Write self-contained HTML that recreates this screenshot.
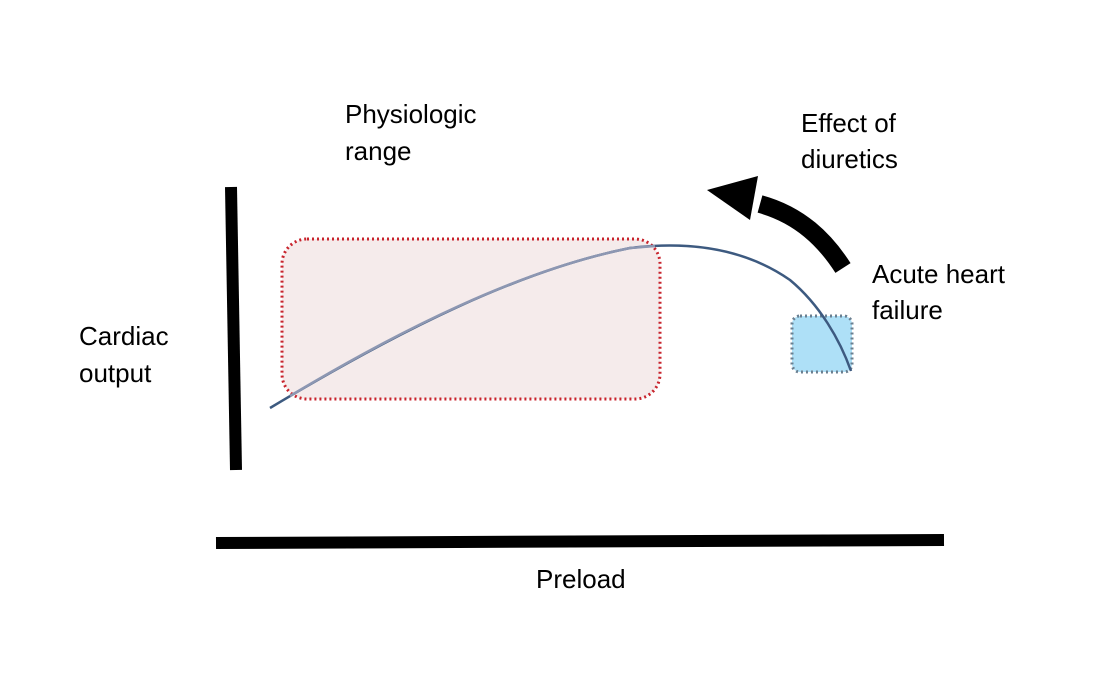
<!DOCTYPE html>
<html><head><style>
body{margin:0;background:#fff;}
svg text{font-family:"Liberation Sans",sans-serif;font-size:26px;fill:#000;}
</style></head><body>
<svg width="1098" height="685" viewBox="0 0 1098 685" xmlns="http://www.w3.org/2000/svg">
<rect x="282" y="239" width="378" height="160" rx="25" fill="#f5ebeb" stroke="#c8232c" stroke-width="3" stroke-dasharray="2 3"/>
<rect x="792" y="316" width="60" height="56" rx="8" fill="#aee0f7" stroke="#6a7f90" stroke-width="3" stroke-dasharray="2 3"/>
<path d="M270 408 C 400 330, 520 270, 630 248 C 680 242, 740 245, 790 280 C 820 305, 840 340, 851 371" fill="none" stroke="#3d5a80" stroke-width="2.5"/>
<path d="M290 396 C 400 330, 520 270, 630 248 L655 246" fill="none" stroke="#8d97b2" stroke-width="2.5"/>
<line x1="231" y1="187" x2="236" y2="470" stroke="#000" stroke-width="12"/>
<line x1="216" y1="543" x2="944" y2="540" stroke="#000" stroke-width="12"/>
<path d="M843 268 C 825 240, 800 215, 760 204" fill="none" stroke="#000" stroke-width="18"/>
<polygon points="707,190 758,176 750,220" fill="#000"/>
<text x="345" y="123">Physiologic</text>
<text x="345" y="160">range</text>
<text x="801" y="132">Effect of</text>
<text x="801" y="168">diuretics</text>
<text x="872" y="283">Acute heart</text>
<text x="872" y="319">failure</text>
<text x="79" y="345">Cardiac</text>
<text x="79" y="382">output</text>
<text x="536" y="588">Preload</text>
</svg>
</body></html>
